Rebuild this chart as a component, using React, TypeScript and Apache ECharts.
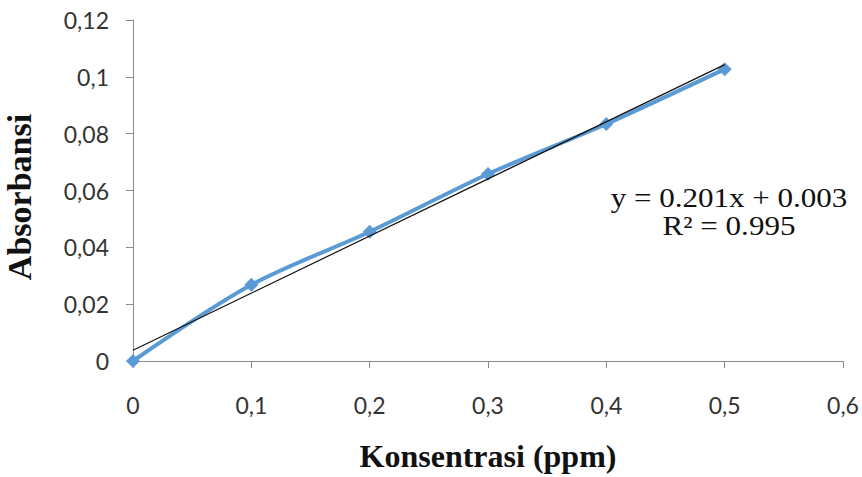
import React, { useEffect, useRef } from "react";
import * as echarts from "echarts";

const concentrations: number[] = [0, 0.1, 0.2, 0.3, 0.4, 0.5];
const absorbance: number[] = [0, 0.0268, 0.0455, 0.0658, 0.0834, 0.1027];
const equationLines: string[] = ["y = 0.201x + 0.003", "R\u00b2 = 0.995"];
const xTitle = "Konsentrasi (ppm)";
const yTitle = "Absorbansi";

function fmt(v: number): string {
  return String(parseFloat(v.toFixed(3))).replace(".", ",");
}

function regression(xs: number[], ys: number[]) {
  const n = xs.length;
  const mx = xs.reduce((a, b) => a + b, 0) / n;
  const my = ys.reduce((a, b) => a + b, 0) / n;
  let sxy = 0;
  let sxx = 0;
  for (let i = 0; i < n; i++) {
    sxy += (xs[i] - mx) * (ys[i] - my);
    sxx += (xs[i] - mx) * (xs[i] - mx);
  }
  const slope = sxy / sxx;
  return { slope, intercept: my - slope * mx };
}

export default function App() {
  const ref = useRef<HTMLDivElement>(null);
  useEffect(() => {
    if (!ref.current) return;
    const chart = echarts.init(ref.current, undefined, { renderer: "svg" });
    const { slope, intercept } = regression(concentrations, absorbance);
    const x0 = concentrations[0];
    const x1 = concentrations[concentrations.length - 1];
    const trend = [
      [x0, slope * x0 + intercept],
      [x1, slope * x1 + intercept],
    ];
    const axisLineColor = "#8a8a8a";
    chart.setOption({
      animation: false,
      backgroundColor: "#ffffff",
      grid: {
        left: 133,
        right: 19,
        top: 20,
        bottom: 116,
        containLabel: false,
        outerBoundsMode: "none",
      },
      xAxis: {
        type: "value",
        min: 0,
        max: 0.6,
        interval: 0.1,
        name: xTitle,
        nameLocation: "middle",
        nameGap: 79,
        nameTextStyle: {
          fontFamily: "Liberation Serif",
          fontWeight: "bold",
          fontSize: 32,
          color: "#111",
        },
        axisLine: { show: true, lineStyle: { color: axisLineColor, width: 1 } },
        axisTick: { show: true, length: 7, lineStyle: { color: axisLineColor } },
        splitLine: { show: false },
        axisLabel: {
          margin: 32,
          fontFamily: "Lato",
          fontSize: 23,
          color: "#333",
          formatter: (v: number) => fmt(v),
        },
      },
      yAxis: {
        type: "value",
        min: 0,
        max: 0.12,
        interval: 0.02,
        name: yTitle,
        nameLocation: "middle",
        nameGap: 97,
        nameRotate: 90,
        nameTextStyle: {
          fontFamily: "Liberation Serif",
          fontWeight: "bold",
          fontSize: 34,
          color: "#111",
          padding: [0, 13, 0, 0],
        },
        axisLine: { show: true, lineStyle: { color: axisLineColor, width: 1 } },
        axisTick: { show: true, length: 7, lineStyle: { color: axisLineColor } },
        splitLine: { show: false },
        axisLabel: {
          margin: 24,
          fontFamily: "Lato",
          fontSize: 23,
          color: "#333",
          formatter: (v: number) => fmt(v),
        },
      },
      series: [
        {
          type: "line",
          data: concentrations.map((x, i) => [x, absorbance[i]]),
          smooth: 0.3,
          symbol: "diamond",
          symbolSize: 14,
          lineStyle: { color: "#5b9bd5", width: 4 },
          itemStyle: { color: "#5b9bd5" },
          z: 2,
        },
        {
          type: "line",
          data: trend,
          symbol: "none",
          lineStyle: { color: "#111111", width: 1.2 },
          z: 3,
        },
      ],
      graphic: [
        {
          type: "group",
          x: 729,
          y: 0,
          scaleX: 1.15,
          children: [
            {
              type: "text",
              x: 0,
              y: 198,
              style: {
                text: equationLines[0],
                fontFamily: "Liberation Serif",
                fontSize: 27,
                fill: "#111",
                textAlign: "center",
                textVerticalAlign: "middle",
              },
            },
            {
              type: "text",
              x: 0,
              y: 226,
              style: {
                text: equationLines[1],
                fontFamily: "Liberation Serif",
                fontSize: 27,
                fill: "#111",
                textAlign: "center",
                textVerticalAlign: "middle",
              },
            },
          ],
        },
      ],
    });
    return () => chart.dispose();
  }, []);
  return (
    <div
      ref={ref}
      style={{ position: "absolute", left: 0, top: 0, width: 862, height: 477 }}
    />
  );
}
